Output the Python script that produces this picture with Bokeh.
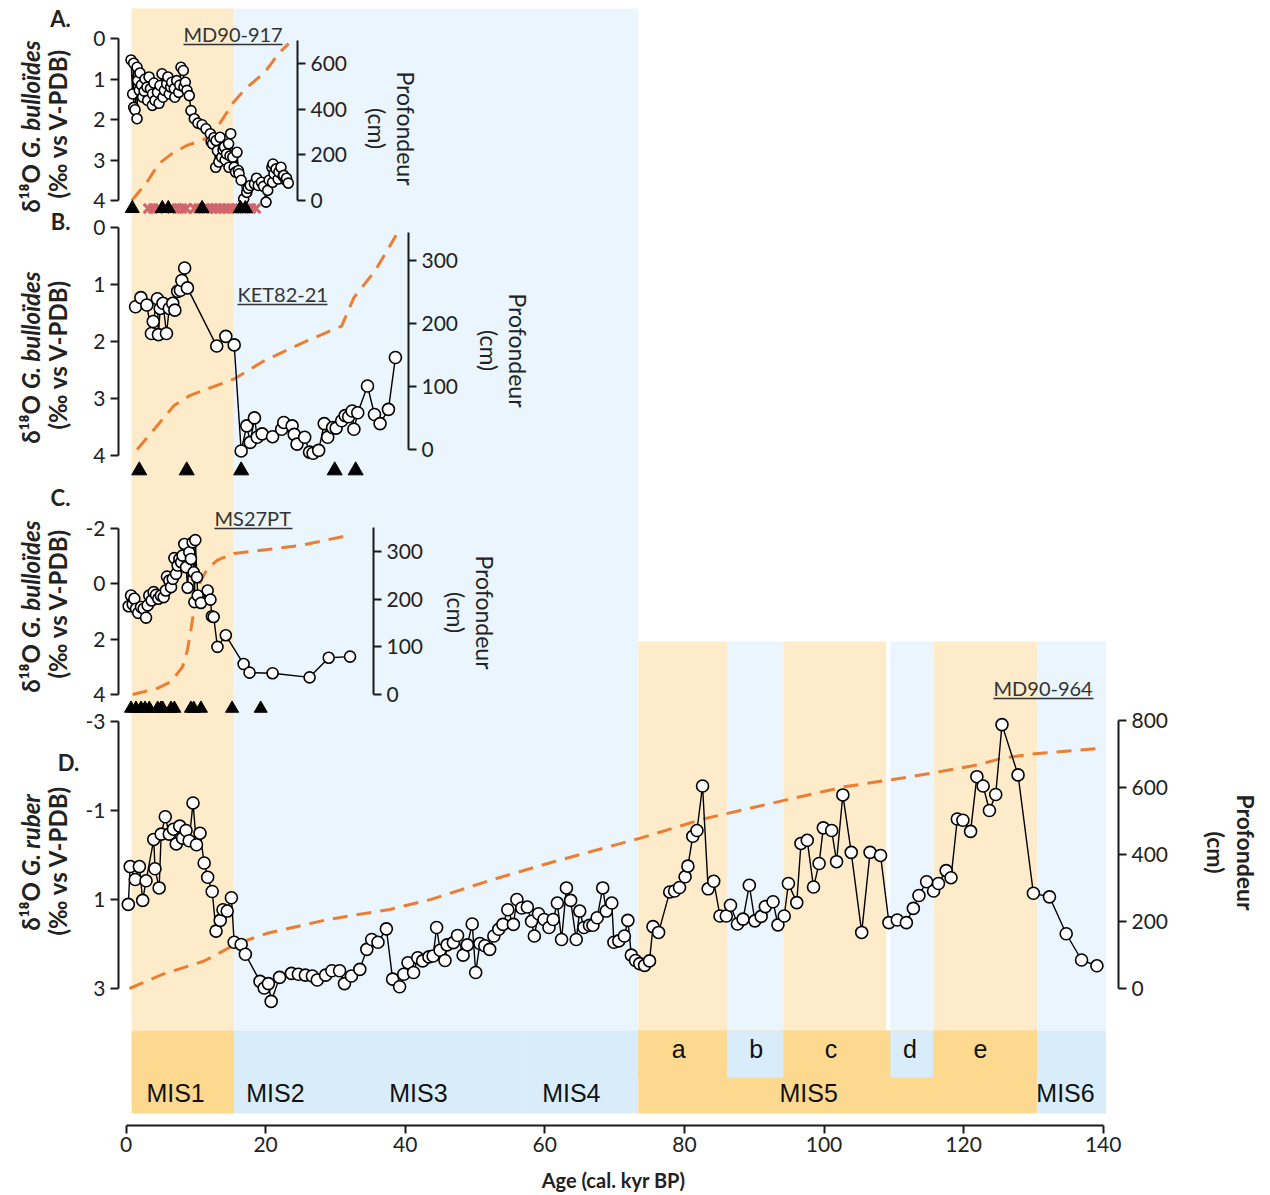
from math import pi
from bokeh.plotting import figure
from bokeh.models import Range1d, LinearAxis, FixedTicker, Label
from bokeh.core.properties import value
from bokeh.embed import file_html
from bokeh.resources import INLINE

# ---------------- data ----------------
# Panel A : MD90-917  (G. bulloides d18O)
A_AGE = [0.72, 0.95, 1.1, 1.1, 1.29, 1.58, 1.58, 1.67, 1.9, 2.0, 2.2, 2.39, 2.6, 2.72, 3.0, 3.1, 3.3, 3.5,
         3.77, 3.8, 4.0, 4.15, 4.5, 4.73, 4.87, 5.16, 5.3, 5.5, 5.83, 6.0, 6.2, 6.4, 6.55, 6.92, 7.0, 7.26,
         7.55, 7.7, 7.88, 8.21, 8.3, 8.5, 8.74, 9.07, 9.31, 9.79, 10.3, 10.9, 11.46, 12.08, 12.2, 12.4, 12.6,
         12.85, 12.9, 13.1, 13.3, 13.47, 13.7, 13.9, 14.1, 14.2, 14.4, 14.7, 14.75, 14.9, 15.0, 15.3, 15.5,
         15.7, 15.9, 16.1, 16.2, 16.5, 16.86, 17.3, 17.5, 17.8, 18.4, 18.7, 18.95, 19.4, 19.7, 20.06, 20.3,
         20.5, 20.9, 21.0, 21.06, 21.2, 21.5, 21.8, 21.9, 22.2, 22.5, 22.6, 22.9, 23.0, 23.25]
A_D18O = [0.53, 1.37, 0.61, 1.70, 1.76, 0.71, 1.98, 1.04, 1.28, 0.85, 1.15, 1.45, 1.30, 1.00, 1.20, 1.53, 0.95, 1.24,
          1.65, 1.37, 1.10, 1.53, 1.33, 1.60, 1.16, 0.87, 1.45, 1.28, 1.12, 0.95, 1.37, 1.20, 1.08, 1.24, 1.45, 1.04,
          1.33, 1.15, 0.71, 0.79, 1.20, 1.08, 1.28, 1.41, 1.78, 1.98, 2.09, 2.13, 2.23, 2.35, 2.55, 2.60, 2.45,
          3.18, 2.52, 2.77, 3.05, 2.44, 2.93, 2.75, 2.68, 3.00, 2.85, 2.60, 3.18, 2.90, 2.35, 2.93, 3.18,
          3.30, 2.81, 3.26, 3.34, 3.50, 3.96, 3.80, 3.70, 3.63, 3.59, 3.45, 3.63, 3.55, 3.65, 4.04, 3.75,
          3.50, 3.18, 3.55, 3.10, 3.34, 3.22, 3.47, 3.30, 3.18, 3.40, 3.38, 3.50, 3.45, 3.57]
A_DEPTH_AGE = [0.83, 3.0, 4.66, 6.55, 8.7, 10.86, 12.3, 13.7, 15.4, 17.1, 19.9, 21.85, 23.3]
A_DEPTH = [0, 80, 160, 204, 241, 263, 285, 350, 430, 489, 562, 643, 687]
A_DATES = [0.9, 5.2, 6.06, 10.9, 16.4, 17.1]
A_DATES_X = [3.2, 3.9, 4.6, 5.6, 6.6, 7.3, 8.0, 8.6, 9.8, 10.4, 11.1, 11.7, 12.3, 12.9, 13.5,
             14.1, 14.7, 15.3, 15.9, 16.6, 17.2, 17.9, 18.6]

# Panel B : KET82-21
B_AGE = [1.37, 2.13, 2.99, 3.64, 3.9, 4.5, 4.65, 4.9, 5.3, 5.8, 6.2, 6.7, 7.0, 7.4, 7.8, 8.0, 8.4, 8.8,
         13.0, 14.3, 15.5, 16.5, 17.3, 17.8, 18.4, 18.8, 19.5, 21.0, 22.3, 22.6, 23.8, 24.1, 24.5, 25.6,
         26.3, 26.8, 27.6, 28.4, 28.9, 29.6, 30.1, 30.9, 31.4, 31.9, 32.4, 32.65, 33.2, 34.6, 35.6, 36.4,
         37.6, 38.6]
B_D18O = [1.39, 1.23, 1.36, 1.86, 1.65, 1.25, 1.88, 1.42, 1.33, 1.86, 1.42, 1.33, 1.45, 1.12, 1.10, 0.93, 0.71, 1.06,
          2.08, 1.91, 2.06, 3.92, 3.48, 3.77, 3.34, 3.68, 3.62, 3.67, 3.54, 3.42, 3.48, 3.63, 3.80, 3.68,
          3.94, 3.96, 3.91, 3.44, 3.68, 3.51, 3.52, 3.39, 3.30, 3.32, 3.22, 3.54, 3.25, 2.78, 3.28, 3.44,
          3.19, 2.28]
B_DEPTH_AGE = [1.6, 4.4, 6.9, 9.2, 15.5, 19.5, 25.6, 30.9, 32.65, 35.7, 38.7]
B_DEPTH = [0, 37, 70, 86, 112, 139, 171, 196, 241, 284, 340]
B_DATES = [1.9, 8.7, 16.5, 29.9, 32.9]

# Panel C : MS27PT
C_AGE = [0.38, 0.72, 0.96, 1.2, 1.43, 1.76, 2.15, 2.53, 2.87, 3.1, 3.34, 3.68, 3.96, 4.3, 4.63, 5.0, 5.4,
         5.7, 5.87, 6.2, 6.45, 6.7, 6.93, 7.17, 7.4, 7.65, 7.9, 8.1, 8.35, 8.6, 8.83, 9.07, 9.3, 9.55, 9.7,
         9.8, 9.93, 10.17, 10.27, 10.74, 11.7, 12.1, 12.3, 12.56, 13.1, 14.3, 16.85, 17.7, 21.0, 26.3,
         29.04, 32.1]
C_D18O = [0.81, 0.42, 0.74, 0.54, 0.90, 1.05, 0.84, 0.90, 1.22, 0.78, 0.42, 0.60, 0.30, 0.40, 0.54, 0.42, 0.48,
          0.24, -0.26, -0.12, 0.12, -0.18, -0.93, -0.36, -0.66, -0.90, -0.78, -1.02, -1.44, -0.60, 0.14, -1.14,
          -0.90, -1.50, -0.42, 0.66, -1.58, -0.24, 0.42, 0.69, 0.24, 0.57, 1.17, 1.20, 2.28, 1.86, 2.90, 3.21,
          3.23, 3.38, 2.67, 2.63]
C_DEPTH_AGE = [0.96, 4.5, 6.45, 8.1, 8.8, 9.3, 10.0, 10.74, 11.7, 13.1, 15.5, 20.3, 25.1, 32.0]
C_DEPTH = [0, 13, 27, 58, 93, 135, 205, 240, 264, 282, 296, 304, 313, 334]
C_DATES = [0.72, 1.43, 2.15, 2.72, 3.34, 4.53, 5.0, 5.25, 6.45, 6.93, 9.3, 9.7, 10.74, 15.2, 19.3]

# Panel D : MD90-964 (G. ruber d18O)
D_AGE = [0.33, 0.6, 1.33, 1.92, 2.39, 2.87, 3.98, 4.15, 4.75, 5.04, 5.63, 6.2, 6.8, 7.2, 7.7, 8.1, 8.6, 9.05,
         9.6, 10.1, 10.6, 11.2, 11.7, 12.35, 12.9, 13.5, 13.9, 14.5, 15.1, 15.5, 16.5, 17.1, 19.2, 19.8, 20.4,
         20.8, 22.0, 23.7, 24.7, 25.7, 26.7, 27.4, 28.6, 29.5, 30.6, 31.3, 32.3, 33.5, 34.5, 35.2, 36.1, 37.3,
         38.2, 39.2, 39.8, 40.4, 41.2, 41.8, 42.5, 43.4, 44.0, 44.5, 45.0, 45.7, 46.0, 46.9, 47.5, 48.3, 48.9,
         49.6, 50.1, 50.7, 51.4, 52.1, 52.7, 53.4, 54.0, 54.7, 55.5, 56.0, 56.7, 57.5, 58.1, 58.5, 59.1, 59.9,
         60.6, 61.2, 61.8, 62.4, 63.1, 63.7, 64.5, 65.0, 65.6, 66.4, 66.9, 67.5, 68.3, 68.8, 69.6, 69.9, 70.6,
         71.4, 71.9, 72.4, 73.0, 73.6, 74.3, 75.0, 75.5, 76.3, 77.9, 78.6, 79.3, 80.1, 80.5, 81.2, 81.8, 82.6,
         83.4, 84.2, 85.1, 86.0, 86.6, 87.6, 88.4, 89.3, 90.1, 91.0, 91.6, 92.7, 93.4, 94.3, 94.9, 96.1, 96.7,
         97.6, 98.5, 99.3, 99.9, 101.1, 101.8, 102.7, 103.9, 105.4, 106.6, 108.1, 109.3, 110.5, 111.8, 112.8,
         113.6, 114.7, 115.7, 116.4, 117.5, 118.2, 119.1, 119.9, 121.0, 121.9, 122.8, 123.7, 124.6, 125.5,
         127.8, 130.0, 132.3, 134.7, 136.9, 139.1]
D_D18O = [1.11, 0.26, 0.55, 0.26, 1.02, 0.58, -0.35, 0.31, 0.74, -0.47, -0.86, -0.47, -0.58, -0.25, -0.65, -0.38,
          -0.55, -0.32, -1.17, -0.23, -0.49, 0.18, 0.50, 0.82, 1.71, 1.47, 1.23, 1.26, 0.96, 1.96, 2.01, 2.23,
          2.84, 2.99, 2.89, 3.29, 2.75, 2.66, 2.68, 2.70, 2.72, 2.81, 2.70, 2.60, 2.60, 2.89, 2.72, 2.57, 2.12,
          1.90, 1.96, 1.66, 2.79, 2.96, 2.68, 2.42, 2.64, 2.31, 2.38, 2.29, 2.27, 1.63, 2.14, 2.37, 2.02, 1.97,
          1.81, 2.25, 2.02, 1.55, 2.64, 1.99, 2.04, 2.12, 1.82, 1.67, 1.56, 1.23, 1.56, 1.00, 1.19, 1.17, 1.49,
          1.82, 1.32, 1.45, 1.63, 1.45, 1.08, 1.90, 0.74, 1.02, 1.90, 1.26, 1.63, 1.58, 1.58, 1.41, 0.74, 1.26,
          1.08, 1.96, 1.93, 1.82, 1.47, 2.25, 2.37, 2.44, 2.48, 2.38, 1.61, 1.74, 0.83, 0.81, 0.73, 0.49, 0.25,
          -0.42, -0.55, -1.55, 0.76, 0.59, 1.37, 1.37, 1.13, 1.55, 1.44, 0.68, 1.48, 1.38, 1.16, 1.05, 1.57,
          1.37, 0.64, 1.07, -0.26, -0.33, 0.72, 0.19, -0.61, -0.55, 0.15, -1.35, -0.06, 1.74, -0.06, 0.01, 1.52,
          1.46, 1.52, 1.20, 0.91, 0.60, 0.81, 0.64, 0.35, 0.51, -0.81, -0.78, -0.53, -1.76, -1.55, -1.00, -1.36,
          -2.93, -1.80, 0.86, 0.94, 1.77, 2.36, 2.49]
D_DEPTH_AGE = [0.5, 5.3, 11.2, 15.7, 20.1, 28.9, 37.8, 43.7, 52.5, 61.4, 73.7, 82.7, 94.6, 102.9, 112.4,
               121.9, 125.5, 130.2, 139.1]
D_DEPTH = [0, 43, 82, 132, 164, 206, 236, 266, 325, 379, 449, 506, 563, 602, 632, 667, 687, 701, 716]

# Marine isotope stages
MIS_NAMES = ["MIS1", "MIS2", "MIS3", "MIS4", "MIS5", "MIS6"]
MIS_START = [0.8, 15.5, 29.5, 57.0, 73.4, 130.5]
MIS_END = [15.5, 29.5, 57.0, 73.4, 130.5, 140.4]
MIS_WARM = [True, False, False, False, True, False]
MIS_LABEL_AGE = [7.1, 21.4, 41.9, 63.8, 97.8, 134.6]
SUB_NAMES = ["a", "b", "c", "d", "e"]
SUB_START = [73.4, 86.1, 94.2, 109.5, 115.7]
SUB_END = [86.1, 94.2, 108.9, 115.7, 130.5]
SUB_WARM = [True, False, True, False, True]
SUB_LABEL_AGE = [79.2, 90.3, 101.0, 112.3, 122.4]

X_TICKS = [0, 20, 40, 60, 80, 100, 120, 140]

# ---------------- layout helpers ----------------
FONT = "Lato"
BAR_FONT = "Liberation Sans"
ORANGE = "#ED7D31"
LIGHT_WARM, LIGHT_COLD = "#FDEBCA", "#EAF5FD"
BAR_WARM, BAR_COLD = "#FDD88F", "#D8ECF9"
X0, KX = 125.5, 6.98          # page px of age 0, px per kyr
W, H = 1262, 1192             # the frame covers the whole canvas
XAXIS_Y = 1125


def ax(px):
    return (px - X0) / KX


def rng(v1, p1, v2, p2):
    s = (v2 - v1) / (p2 - p1)
    return Range1d(start=v1 + s * (H - p1), end=v1 + s * (0 - p1))


p = figure(frame_width=W, frame_height=H,
           x_range=Range1d(ax(0), ax(W)), y_range=Range1d(H, 0),
           x_axis_location=None, y_axis_location=None,
           output_backend="svg", toolbar_location=None,
           min_border_left=0, min_border_right=0, min_border_top=0, min_border_bottom=0)
p.outline_line_color = None
p.grid.visible = False
p.background_fill_color = "white"
p.border_fill_color = "white"

p.extra_y_ranges = {
    "A": rng(0, 38, 4, 200), "Ad": rng(0, 200, 600, 63),
    "B": rng(0, 227, 4, 455), "Bd": rng(0, 449, 300, 260),
    "C": rng(-2, 528, 4, 694), "Cd": rng(0, 694, 300, 551),
    "D": rng(-3, 721, 3, 988), "Dd": rng(0, 988, 800, 720),
}


def style(a):
    a.axis_line_width = 2
    a.axis_line_color = "#1a1a1a"
    a.major_tick_line_width = 2
    a.major_tick_line_color = "#1a1a1a"
    a.major_tick_out = 8
    a.major_tick_in = 0
    a.minor_tick_line_color = None
    a.major_label_text_font = FONT
    a.major_label_text_font_size = "21px"
    a.major_label_text_color = "#222222"
    a.major_label_standoff = 5


def yaxis(rname, px, side, bounds, ticks):
    a = LinearAxis(y_range_name=rname, fixed_location=ax(px), bounds=bounds,
                   ticker=FixedTicker(ticks=ticks),
                   major_label_overrides={float(t): str(t) for t in ticks})
    style(a)
    p.add_layout(a, side)


def label(px, py, text, size="21px", fstyle="normal", angle=0.0, align="center",
          baseline="middle", color="#222222", font=FONT):
    p.add_layout(Label(x=ax(px), y=py, text=text, angle=angle, text_align=align,
                       text_baseline=baseline, text_font=font, text_font_size=size,
                       text_font_style=fstyle, text_color=color))


# ---------------- background shading ----------------
p.quad(left=MIS_START[:4], right=MIS_END[:4], top=[8] * 4, bottom=[1030] * 4,
       fill_color=[LIGHT_WARM if w else LIGHT_COLD for w in MIS_WARM[:4]], line_color=None)
low_left = SUB_START + [MIS_START[5]]
low_right = SUB_END + [MIS_END[5]]
low_col = [LIGHT_WARM if w else LIGHT_COLD for w in SUB_WARM] + [LIGHT_COLD]
p.quad(left=low_left, right=low_right, top=[641] * 6, bottom=[1030] * 6,
       fill_color=low_col, line_color=None)

# MIS bar
p.quad(left=MIS_START, right=MIS_END, top=[1030] * 6, bottom=[1113] * 6,
       fill_color=[BAR_WARM if w else BAR_COLD for w in MIS_WARM], line_color=None)
p.quad(left=SUB_START, right=SUB_END, top=[1030] * 5, bottom=[1077] * 5,
       fill_color=[BAR_WARM if w else BAR_COLD for w in SUB_WARM], line_color=None)
p.text(x=MIS_LABEL_AGE, y=[1092] * 6, text=MIS_NAMES, text_font=value(BAR_FONT),
       text_font_size="25px", text_align="center", text_baseline="middle", text_color="#111111")
p.text(x=SUB_LABEL_AGE, y=[1048] * 5, text=SUB_NAMES, text_font=value(BAR_FONT),
       text_font_size="25px", text_align="center", text_baseline="middle", text_color="#111111")

# ---------------- depth curves ----------------
for ages, depth, rn in [(A_DEPTH_AGE, A_DEPTH, "Ad"), (B_DEPTH_AGE, B_DEPTH, "Bd"),
                        (C_DEPTH_AGE, C_DEPTH, "Cd"), (D_DEPTH_AGE, D_DEPTH, "Dd")]:
    p.line(x=ages, y=depth, y_range_name=rn, line_color=ORANGE, line_width=3, line_dash="15 9")

# ---------------- isotope series ----------------
for ages, vals, rn, sz in [(A_AGE, A_D18O, "A", 10), (B_AGE, B_D18O, "B", 12),
                           (C_AGE, C_D18O, "C", 11), (D_AGE, D_D18O, "D", 12)]:
    p.line(x=ages, y=vals, y_range_name=rn, line_color="black", line_width=1.4)
    p.scatter(x=ages, y=vals, y_range_name=rn, marker="circle", size=sz,
              fill_color="white", line_color="black", line_width=1.6)

# dating markers
p.scatter(x=A_DATES_X, y=[208] * len(A_DATES_X), marker="x", size=13, line_color="#D0666A", line_width=3)
p.scatter(x=A_DATES, y=[208] * len(A_DATES), marker="triangle", size=14, color="black")
p.scatter(x=B_DATES, y=[470] * len(B_DATES), marker="triangle", size=15, color="black")
p.scatter(x=C_DATES, y=[708] * len(C_DATES), marker="triangle", size=13, color="black")

# ---------------- axes ----------------
yaxis("A", 118, "left", (0, 4), [0, 1, 2, 3, 4])
yaxis("Ad", 297, "right", (0, 700), [0, 200, 400, 600])
yaxis("B", 118, "left", (0, 4), [0, 1, 2, 3, 4])
yaxis("Bd", 408, "right", (0, 345), [0, 100, 200, 300])
yaxis("C", 118, "left", (-2, 4), [-2, 0, 2, 4])
yaxis("Cd", 373, "right", (0, 350), [0, 100, 200, 300])
yaxis("D", 118, "left", (-3, 3), [-3, -1, 1, 3])
yaxis("Dd", 1118, "right", (0, 800), [0, 200, 400, 600, 800])

xa = LinearAxis(fixed_location=XAXIS_Y, bounds=(0, 140), ticker=FixedTicker(ticks=X_TICKS))
style(xa)
xa.major_label_standoff = 3
p.add_layout(xa, "below")

# ---------------- texts ----------------
label(613, 1179, "Age (cal. kyr BP)", size="20px", fstyle="bold")
for txt, py in [("A.", 18), ("B.", 221), ("C.", 497)]:
    label(60, py, txt, size="22px", fstyle="bold")
label(68, 762, "D.", size="22px", fstyle="bold")


def left_title(center, species, w2):
    w1, gap = 50, 6
    bottom = center + (w1 + gap + w2) / 2
    label(30, bottom - w1, "δ¹⁸O", size="24px", fstyle="bold", angle=pi / 2, align="right")
    label(30, bottom - w1 - gap, species, size="24px", fstyle="bold italic", angle=pi / 2, align="left")
    label(57, center, "(‰ vs V-PDB)", size="24px", fstyle="bold", angle=pi / 2)


left_title(123, "G. bulloïdes", 125)
left_title(354, "G. bulloïdes", 125)
left_title(603, "G. bulloïdes", 125)
left_title(860, "G. ruber", 87)

for px1, px2, py, fs in [(405, 376, 128, "normal"), (517, 488, 350, "normal"),
                         (484, 455, 612, "normal"), (1245, 1215, 852, "bold")]:
    label(px1, py, "Profondeur", size="23px", fstyle=fs, angle=-pi / 2)
    label(px2, py, "(cm)", size="23px", fstyle=fs, angle=-pi / 2)

TITLES = [("MD90-917", 183, 33, 99), ("KET82-21", 237, 293, 90), ("MS27PT", 214, 517, 78), ("MD90-964", 993, 687, 100)]
for txt, px, py, w in TITLES:
    label(px, py, txt, size="20px", align="left", color="#333333")
p.segment(x0=[ax(t[1]) for t in TITLES], x1=[ax(t[1] + t[3]) for t in TITLES],
          y0=[t[2] + 11 for t in TITLES], y1=[t[2] + 11 for t in TITLES],
          line_color="#333333", line_width=1.5)

open("out.html", "w").write(file_html(p, INLINE))
